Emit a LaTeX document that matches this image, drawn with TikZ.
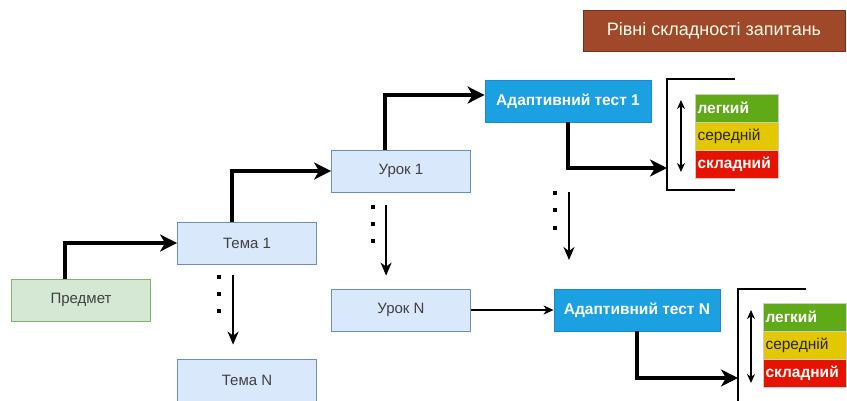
\documentclass[tikz,border=0pt]{standalone}
\usepackage{fontspec}
\setmainfont{Liberation Sans}
\usetikzlibrary{arrows.meta,calc}
\definecolor{titlebr}{HTML}{A0482A}
\definecolor{lbfill}{HTML}{DAE8FC}
\definecolor{lbdraw}{HTML}{6C8EBF}
\definecolor{gfill}{HTML}{D5E8D4}
\definecolor{gdraw}{HTML}{82B366}
\definecolor{tblue}{HTML}{1BA1E2}
\definecolor{tbdraw}{HTML}{1E88C8}
\definecolor{lvgreen}{HTML}{60A917}
\definecolor{lvyellow}{HTML}{E3C800}
\definecolor{lvred}{HTML}{E51400}
\tikzset{
  box/.style={draw, line width=0.8pt, minimum width=139pt, minimum height=42pt, inner sep=0pt, font=\fontsize{15}{17}\selectfont, text=black!75},
  lbox/.style={box, fill=lbfill, draw=lbdraw},
  gbox/.style={box, fill=gfill, draw=gdraw},
  tbox/.style={draw=tbdraw, fill=tblue, line width=0.8pt, minimum width=166pt, minimum height=42pt, inner sep=0pt, text=white, font=\fontsize{15.5}{17}\selectfont\bfseries},
  lvl/.style={minimum width=83pt, minimum height=27.5pt, inner sep=2pt, text width=79pt, align=left, font=\fontsize{15.5}{17}\selectfont, draw=white!80!black, line width=0.5pt},
  thickarr/.style={line width=3.4pt, -{Stealth[length=17pt,width=17pt,inset=5pt]}},
  thinarr/.style={line width=1.8pt, -{Stealth[length=13pt,width=11pt,inset=4pt]}},
  brk/.style={line width=2.4pt},
  dbl/.style={line width=1.6pt, {Stealth[length=9pt,width=8pt]}-{Stealth[length=9pt,width=8pt]}},
  dotsq/.style={fill=black, inner sep=0pt, minimum size=4pt}
}
\begin{document}
\begin{tikzpicture}[x=1pt,y=-1pt]
\clip (0,0) rectangle (847,400);
\fill[white] (0,0) rectangle (847,400);

\node[fill=titlebr, draw=titlebr!70!black, line width=0.8pt, minimum width=262pt, minimum height=41pt, text=white!92!yellow, font=\fontsize{18}{20}\selectfont] (title) at (714,31) {Рівні складності запитань};

\node[gbox] (predmet) at (81,300) {Предмет};
\node[lbox] (tema1) at (247,243) {Тема 1};
\node[lbox] (teman) at (247,380) {Тема N};
\node[lbox] (urok1) at (401,171) {Урок 1};
\node[lbox] (urokn) at (401,310) {Урок N};
\node[tbox] (test1) at (568,101) {Адаптивний тест 1};
\node[tbox] (testn) at (637,310) {Адаптивний тест N};

% level boxes 1
\node[lvl, fill=lvgreen, text=white, font=\fontsize{15.5}{17}\selectfont\bfseries] (l1a) at (737,108) {легкий};
\node[lvl, fill=lvyellow, text=black!85, anchor=north] (l1b) at (l1a.south) {середній};
\node[lvl, fill=lvred, text=white, anchor=north, font=\fontsize{15.5}{17}\selectfont\bfseries] (l1c) at (l1b.south) {складний};
% level boxes N
\node[lvl, fill=lvgreen, text=white, font=\fontsize{15.5}{17}\selectfont\bfseries] (lna) at (805,317) {легкий};
\node[lvl, fill=lvyellow, text=black!85, anchor=north] (lnb) at (lna.south) {середній};
\node[lvl, fill=lvred, text=white, anchor=north, font=\fontsize{15.5}{17}\selectfont\bfseries] (lnc) at (lnb.south) {складний};

% brackets
\draw[brk] (735,79) -- (667,79) -- (667,190) -- (735,190);
\coordinate (br1) at (667,168);
\draw[brk] (806,289) -- (738,289) -- (738,402);
\coordinate (brn) at (738,378);

\draw[dbl] (681,100) -- (681,172);
\draw[dbl] (751,310) -- (751,383);

% thick connectors
\draw[thickarr] ($(predmet.north west)+(54,0)$) |- (tema1.west);
\draw[thickarr] ($(tema1.north west)+(55,0)$) |- (urok1.west);
\draw[thickarr] ($(urok1.north west)+(54,0)$) |- ($(test1.west)+(0,-6)$);
\draw[thickarr] (test1.south) |- (br1);
\draw[thickarr] (testn.south) |- (brn);
\draw[line width=1.4pt, -{Stealth[length=10pt,width=9pt,inset=3pt]}] (urokn.east) -- (testn.west);

% dotted continuation arrows
\draw[thinarr] ($(tema1.south west)+(56,11)$) -- ($(teman.north west)+(56,-14)$);
\foreach \y in {277,294,311} \node[dotsq] at (219,\y) {};
\draw[thinarr] ($(urok1.south west)+(55,13)$) -- ($(urokn.north west)+(55,-13)$);
\foreach \y in {207,224,241} \node[dotsq] at (373,\y) {};
\coordinate (t1d) at (569,192);
\coordinate (tnd) at (569,260);
\draw[thinarr] (t1d) -- (tnd);
\foreach \y in {193,210,228} \node[dotsq] at (555,\y) {};
\end{tikzpicture}
\end{document}
